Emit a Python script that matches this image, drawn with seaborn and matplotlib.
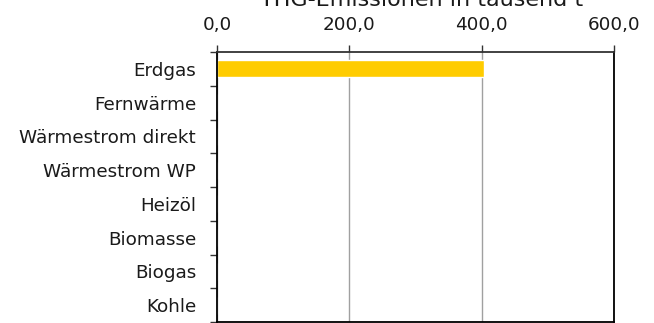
import numpy as np
import pandas as pd
import seaborn as sns
import matplotlib.pyplot as plt
from matplotlib.ticker import FixedLocator, FuncFormatter

categories = ['Erdgas', 'Fernwärme', 'Wärmestrom direkt', 'Wärmestrom WP',
              'Heizöl', 'Biomasse', 'Biogas', 'Kohle']
emissions = [403.0, 0, 0, 0, 0, 0, 0, 0]
x_ticks = [0, 200, 400, 600]
title = 'THG-Emissionen in tausend t'

df = pd.DataFrame({'Energietraeger': categories, 'THG': emissions})

sns.set_style('white')
plt.rcParams['font.family'] = ['DejaVu Sans']

fig = plt.figure(figsize=(6.54, 3.23), dpi=100)
ax = fig.add_axes([217 / 654, 1 - 322 / 323, (614 - 217) / 654, (322 - 52) / 323])

sns.barplot(data=df, x='THG', y='Energietraeger', orient='h', color='#FFCC00',
            saturation=1, width=0.5, ax=ax)

ax.set_xlim(0, 600)
ax.set_ylim(7.5, -0.5)
ax.xaxis.tick_top()
ax.set_xticks(x_ticks)
ax.xaxis.set_major_formatter(FuncFormatter(lambda v, p: f'{v:.1f}'.replace('.', ',')))
ax.tick_params(axis='x', direction='out', length=5, width=1, color='#333333',
               labelsize=13.2, pad=8, labelcolor='#1a1a1a')
ax.grid(axis='x', color='#a0a0a0', linewidth=1)
ax.set_axisbelow(True)

ax.yaxis.set_minor_locator(FixedLocator(np.arange(-0.5, 8.0, 1.0)))
ax.tick_params(axis='y', which='major', length=0, labelsize=13.2, pad=15,
               labelcolor='#1a1a1a')
ax.tick_params(axis='y', which='minor', direction='out', length=5, width=1,
               color='#333333', left=True)

for s in ax.spines.values():
    s.set_visible(True)
    s.set_color('black')
    s.set_linewidth(1.3)
ax.spines['top'].set_color('#333333')

ax.set_xlabel('')
ax.set_ylabel('')
fig.text(422 / 654, 1 - 6 / 323, title, fontsize=16, ha='center', va='baseline',
         color='#1a1a1a')

plt.savefig('out.png', dpi=100)
